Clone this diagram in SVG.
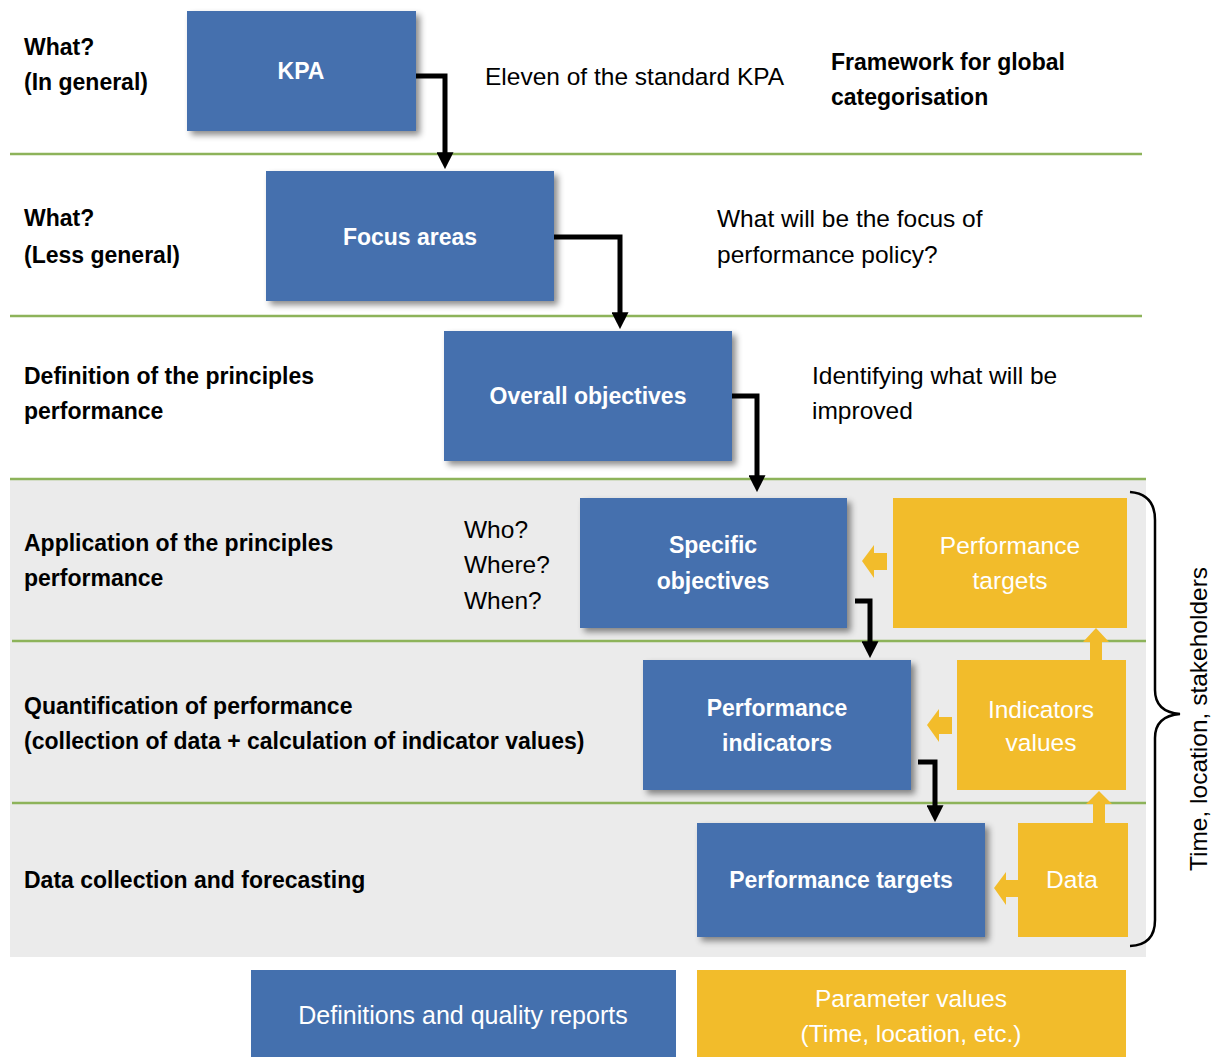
<svg xmlns="http://www.w3.org/2000/svg" width="1212" height="1057" viewBox="0 0 1212 1057">
<defs>
<style>
.lbl{font-family:"Liberation Sans",Arial,sans-serif;font-weight:bold;font-size:23px;fill:#000}
.txt{font-family:"Liberation Sans",Arial,sans-serif;font-size:24.5px;fill:#000}
.bt{font-family:"Liberation Sans",Arial,sans-serif;font-weight:bold;font-size:23px;fill:#fff;text-anchor:middle}
.yt{font-family:"Liberation Sans",Arial,sans-serif;font-size:24.5px;fill:#fff;text-anchor:middle}
.blue{fill:#4470AE}
.yel{fill:#F2BC2B}
.sep{stroke:#8DB35A;stroke-width:2.5;fill:none}
.con{stroke:#000;stroke-width:5;fill:none}
</style>
<filter id="sh" x="-10%" y="-10%" width="125%" height="130%">
<feDropShadow dx="4" dy="4" stdDeviation="3" flood-color="#000" flood-opacity="0.45"/>
</filter>
<marker id="ah" viewBox="0 0 10 10" refX="0.5" refY="5" markerWidth="3.4" markerHeight="3.4" markerUnits="strokeWidth" orient="auto">
<path d="M0,0 L10,5 L0,10 Z" fill="#000"/>
</marker>
</defs>
<rect width="1212" height="1057" fill="#fff"/>
<rect x="10" y="479" width="1136" height="478" fill="#EBEBEB"/>
<g id="separators">
<line class="sep" x1="10" y1="154" x2="1142" y2="154"/>
<line class="sep" x1="10" y1="316" x2="1142" y2="316"/>
<line class="sep" x1="10" y1="479" x2="1146" y2="479"/>
<line class="sep" x1="12" y1="641" x2="1146" y2="641"/>
<line class="sep" x1="12" y1="803" x2="1146" y2="803"/>
</g>
<g id="row-labels">
<text class="lbl" x="24" y="55">What?</text>
<text class="lbl" x="24" y="90">(In general)</text>
<text class="lbl" x="24" y="226">What?</text>
<text class="lbl" x="24" y="263">(Less general)</text>
<text class="lbl" x="24" y="384">Definition of the principles</text>
<text class="lbl" x="24" y="419">performance</text>
<text class="lbl" x="24" y="551">Application of the principles</text>
<text class="lbl" x="24" y="586">performance</text>
<text class="lbl" x="24" y="714">Quantification of performance</text>
<text class="lbl" x="24" y="749">(collection of data + calculation of indicator values)</text>
<text class="lbl" x="24" y="888">Data collection and forecasting</text>
</g>
<g id="annotations">
<text class="txt" x="485" y="85">Eleven of the standard KPA</text>
<text class="lbl" x="831" y="70">Framework for global</text>
<text class="lbl" x="831" y="105">categorisation</text>
<text class="txt" x="717" y="227">What will be the focus of</text>
<text class="txt" x="717" y="263">performance policy?</text>
<text class="txt" x="812" y="384">Identifying what will be</text>
<text class="txt" x="812" y="419">improved</text>
<text class="txt" x="464" y="538">Who?</text>
<text class="txt" x="464" y="573">Where?</text>
<text class="txt" x="464" y="609">When?</text>
</g>
<g id="kpa"><rect class="blue" filter="url(#sh)" x="187" y="11" width="229" height="120"/><text class="bt" x="301" y="79">KPA</text></g>
<g id="focus-areas"><rect class="blue" filter="url(#sh)" x="266" y="171" width="288" height="130"/><text class="bt" x="410" y="245">Focus areas</text></g>
<g id="overall-objectives"><rect class="blue" filter="url(#sh)" x="444" y="331" width="288" height="130"/><text class="bt" x="588" y="404">Overall objectives</text></g>
<g id="specific-objectives"><rect class="blue" filter="url(#sh)" x="580" y="498" width="267" height="130"/><text class="bt" x="713" y="553">Specific</text><text class="bt" x="713" y="589">objectives</text></g>
<g id="performance-indicators"><rect class="blue" filter="url(#sh)" x="643" y="660" width="268" height="130"/><text class="bt" x="777" y="716">Performance</text><text class="bt" x="777" y="751">indicators</text></g>
<g id="performance-targets-blue"><rect class="blue" filter="url(#sh)" x="697" y="823" width="288" height="114"/><text class="bt" x="841" y="888">Performance targets</text></g>
<g id="performance-targets-yellow"><rect class="yel" x="893" y="498" width="234" height="130"/><text class="yt" x="1010" y="554">Performance</text><text class="yt" x="1010" y="589">targets</text></g>
<g id="indicators-values"><rect class="yel" x="957" y="660" width="169" height="130"/><text class="yt" x="1041" y="718">Indicators</text><text class="yt" x="1041" y="751">values</text></g>
<g id="data"><rect class="yel" x="1018" y="823" width="110" height="114"/><text class="yt" x="1072" y="888">Data</text></g>
<g id="definitions"><rect class="blue" x="251" y="970" width="425" height="87"/><text class="yt" x="463" y="1024" style="font-size:25px">Definitions and quality reports</text></g>
<g id="parameter-values"><rect class="yel" x="697" y="970" width="429" height="87"/><text class="yt" x="911" y="1007">Parameter values</text><text class="yt" x="911" y="1042">(Time, location, etc.)</text></g>
<g id="connectors">
<path class="con" d="M416,76 H445 V153" marker-end="url(#ah)"/>
<path class="con" d="M554,237 H620 V313" marker-end="url(#ah)"/>
<path class="con" d="M732,396 H757 V476" marker-end="url(#ah)"/>
<path class="con" d="M855,601 H870 V642" marker-end="url(#ah)"/>
<path class="con" d="M918,762 H935 V806" marker-end="url(#ah)"/>
<g fill="#F2BC2B">
<path d="M862,561 L874,545 L874,553 L887,553 L887,570 L874,570 L874,578 Z"/>
<path d="M927,725 L939,709 L939,717 L952,717 L952,734 L939,734 L939,742 Z"/>
<path d="M994,888 L1006,872 L1006,880 L1018,880 L1018,897 L1006,897 L1006,905 Z"/>
<path d="M1096,628 L1109,642 L1102,642 L1102,660 L1090,660 L1090,642 L1083,642 Z"/>
<path d="M1099,791 L1112,804 L1105,804 L1105,823 L1093,823 L1093,804 L1086,804 Z"/>
</g>
</g>
<g id="brace">
<path d="M1130,492 Q1155,494 1155,520 V690 Q1155,712 1180,714 Q1155,716 1155,738 V920 Q1155,945 1130,946" fill="none" stroke="#000" stroke-width="2.5"/>
<text class="txt" transform="translate(1207,719) rotate(-90)" text-anchor="middle">Time, location, stakeholders</text>
</g>
</svg>
